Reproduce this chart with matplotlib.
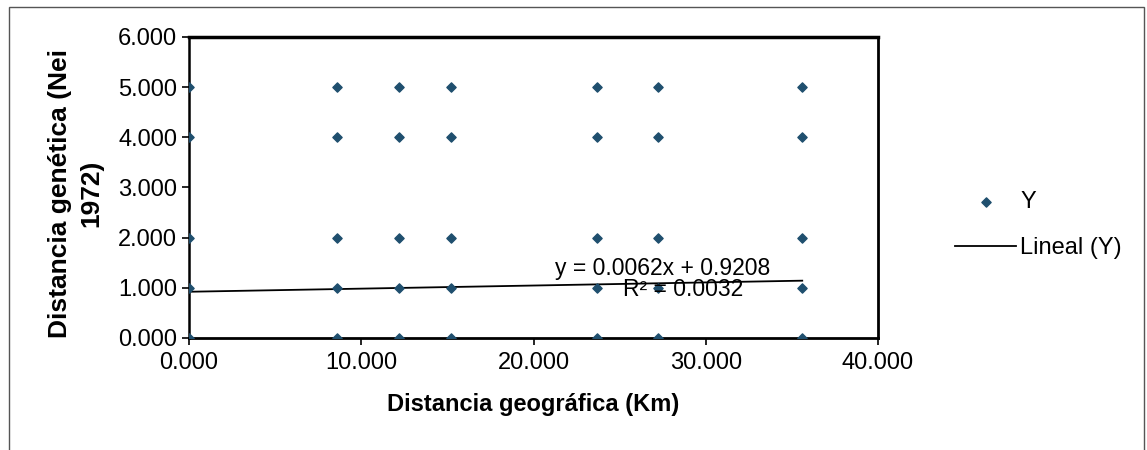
import numpy as np
import matplotlib
matplotlib.use("Agg")
import matplotlib.pyplot as plt
from matplotlib.patches import Rectangle
from matplotlib.ticker import FormatStrFormatter

plt.rcParams['font.family'] = ['Liberation Sans', 'DejaVu Sans']

# data
dist_geo = [0.0, 8.6, 12.2, 15.2, 23.7, 27.2, 35.6]
y_levels = [0, 1, 2, 4, 5]
slope = 0.0062
intercept = 0.9208
r2 = 0.0032

xs = [x for x in dist_geo for _ in y_levels]
ys = [y for _ in dist_geo for y in y_levels]

fig = plt.figure(figsize=(11.47, 4.5), dpi=100)
ax = fig.add_axes([0.1648, 0.249, 0.6007, 0.669])

pt_color = '#1f4f6e'
ax.scatter(xs, ys, marker='D', s=22, color=pt_color, zorder=3, label='Y')

xl = np.array([min(dist_geo), max(dist_geo)])
ax.plot(xl, slope * xl + intercept, color='black', lw=1.3, zorder=2, label='Lineal (Y)')

ax.text(27.5, 1.39, f'y = {slope}x + {intercept}', ha='center', va='center', fontsize=16.5)
ax.text(28.7, 0.96, f'R² = {r2}', ha='center', va='center', fontsize=16.5)

ax.set_xlim(0, 40)
ax.set_ylim(0, 6)
ax.set_xticks(np.arange(0, 41, 10))
ax.set_yticks([0, 1, 2, 3, 4, 5, 6])
ax.xaxis.set_major_formatter(FormatStrFormatter('%.3f'))
ax.yaxis.set_major_formatter(FormatStrFormatter('%.3f'))
ax.tick_params(labelsize=17, direction='out', length=5, width=1.2, color='black')
ax.tick_params(axis='x', pad=5)

for side, w in [('top', 2.5), ('right', 2.0), ('bottom', 2.0), ('left', 1.8)]:
    ax.spines[side].set_linewidth(w)

ax.set_xlabel('Distancia geográfica (Km)', fontsize=17, fontweight='bold', labelpad=14)
ax.set_ylabel('Distancia genética (Nei\n1972)', fontsize=19, fontweight='bold',
              linespacing=1.35)
ax.yaxis.set_label_coords(-0.125, 0.48)

leg = ax.legend(loc='center left', bbox_to_anchor=(1.081, 0.375), frameon=False,
                fontsize=17, handlelength=2.6, handletextpad=0.15, labelspacing=1.0,
                markerscale=1.0)

fig.patches.append(Rectangle((9 / 1147, -0.01), (1144 - 9) / 1147, (450 - 7) / 450 + 0.01,
                             transform=fig.transFigure, fill=False,
                             edgecolor='#555555', lw=1.0))

fig.savefig('out.png', dpi=100)
